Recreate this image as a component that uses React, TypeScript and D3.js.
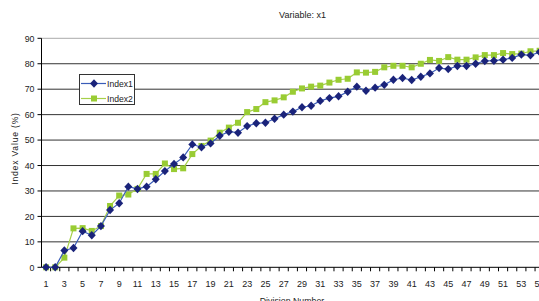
import React from "react";
import * as d3 from "d3";

const categories: number[] = Array.from({ length: 55 }, (_, i) => i + 1);
const index1: number[] = [
  0, 0, 6.6, 7.6, 14.2, 12.6, 16.2, 22.5, 25.2, 31.7,
  30.8, 31.7, 34.6, 37.8, 40.6, 43.2, 48.3, 47.2, 48.7, 51.7,
  53.3, 52.9, 55.5, 56.6, 56.8, 58.4, 60.0, 61.2, 62.9, 63.5,
  65.4, 66.5, 67.2, 69.0, 71.0, 69.4, 70.6, 71.7, 73.7, 74.4,
  73.6, 74.9, 76.2, 78.3, 77.9, 79.1, 79.1, 80.0, 81.1, 81.2,
  81.6, 82.3, 83.6, 83.3, 84.6,
];
const index2: number[] = [
  0, 0, 3.8, 15.3, 15.4, 14.3, 16.2, 24.1, 28.2, 28.6,
  30.8, 36.7, 36.7, 40.8, 38.6, 38.9, 44.5, 47.7, 49.8, 52.9,
  54.9, 56.8, 61.0, 62.2, 64.9, 65.6, 66.8, 69.0, 70.3, 71.0,
  71.4, 72.6, 73.7, 74.1, 76.6, 76.5, 76.8, 78.6, 79.2, 79.2,
  78.6, 80.0, 81.5, 81.1, 82.6, 81.6, 81.6, 82.5, 83.4, 83.4,
  84.2, 83.8, 84.0, 84.9, 85.1,
];
const yTicks: number[] = [0, 10, 20, 30, 40, 50, 60, 70, 80, 90];
const seriesNames: string[] = ["Index1", "Index2"];
const title = "Variable: x1";
const xTitle = "Division Number";
const yTitle = "Index Value (%)";

const W = 539;
const H = 301;
const left = 41.5;
const step = 9.14;
const FONT = "'Liberation Sans', Arial, sans-serif";

export default function App() {
  const x = d3
    .scaleBand<number>()
    .domain(categories)
    .range([left, left + categories.length * step])
    .paddingInner(0)
    .paddingOuter(0);
  const y = d3.scaleLinear().domain([0, 90]).range([267.3, 38.3]);
  const cx = (c: number) => (x(c) as number) + x.bandwidth() / 2;

  const line = d3
    .line<number>()
    .x((_, i) => cx(categories[i]))
    .y((d) => y(d));

  const right = left + categories.length * step;
  const diamond = "M0,-4.2L4,0L0,4.2L-4,0Z";

  return (
    <svg
      width={W}
      height={H}
      style={{ position: "absolute", left: 0, top: 0, background: "#fff" }}
      fontFamily={FONT}
    >
      <rect x={0} y={0} width={W} height={H} fill="#fff" />
      <text x={302.5} y={18} fontSize={9} textAnchor="middle" fill="#222">
        {title}
      </text>
      {/* gridlines */}
      {yTicks
        .filter((t) => t > 0)
        .map((t) => (
          <line
            key={"g" + t}
            x1={left}
            x2={right}
            y1={y(t)}
            y2={y(t)}
            stroke={t === 90 ? "#aaa" : "#333"}
            strokeWidth={1}
          />
        ))}
      {/* y axis */}
      <line x1={left} x2={left} y1={y(90)} y2={y(0)} stroke="#000" strokeWidth={1} />
      {yTicks.map((t) => (
        <g key={"yt" + t}>
          <line x1={left - 4} x2={left} y1={y(t)} y2={y(t)} stroke="#000" />
          <text
            x={34.5}
            y={y(t) + 3.2}
            fontSize={8.8}
            textAnchor="end"
            fill="#222"
          >
            {t}
          </text>
        </g>
      ))}
      {/* x axis */}
      <line x1={left} x2={right} y1={y(0)} y2={y(0)} stroke="#000" strokeWidth={1} />
      {categories.map((c) => (
        <line
          key={"xt" + c}
          x1={(x(c) as number) + step}
          x2={(x(c) as number) + step}
          y1={y(0)}
          y2={y(0) + 4}
          stroke="#000"
        />
      ))}
      {categories
        .filter((c) => c % 2 === 1)
        .map((c) => (
          <text
            key={"xl" + c}
            x={cx(c)}
            y={287}
            fontSize={9}
            textAnchor="middle"
            fill="#222"
          >
            {c}
          </text>
        ))}
      <text x={292} y={304} fontSize={8.8} textAnchor="middle" fill="#222">
        {xTitle}
      </text>
      <text
        transform={`translate(18,148.5) rotate(-90)`}
        fontSize={8.6}
        textAnchor="middle"
        letterSpacing={0.8}
        fill="#222"
      >
        {yTitle}
      </text>
      {/* series 2 */}
      <path d={line(index2) || ""} fill="none" stroke="#a6d04a" strokeWidth={1.2} />
      {index2.map((v, i) => (
        <rect
          key={"s2" + i}
          x={cx(categories[i]) - 3}
          y={y(v) - 3}
          width={6}
          height={6}
          fill="#99cc33"
        />
      ))}
      {/* series 1 */}
      <path d={line(index1) || ""} fill="none" stroke="#3a5cb8" strokeWidth={1.2} />
      {index1.map((v, i) => (
        <path
          key={"s1" + i}
          d={diamond}
          transform={`translate(${cx(categories[i])},${y(v)})`}
          fill="#1a237a"
        />
      ))}
      {/* legend */}
      <rect x={79.5} y={74.5} width={55} height={30} fill="#fff" stroke="#333" strokeWidth={1} />
      <line x1={81} x2={106} y1={83.5} y2={83.5} stroke="#3a5cb8" strokeWidth={1.2} />
      <path d={diamond} transform="translate(94,83.5)" fill="#1a237a" />
      <text x={107} y={86.5} fontSize={8.6} fill="#222">
        {seriesNames[0]}
      </text>
      <line x1={81} x2={106} y1={98.5} y2={98.5} stroke="#a6d04a" strokeWidth={1.2} />
      <rect x={91} y={95.5} width={6} height={6} fill="#99cc33" />
      <text x={107} y={101.5} fontSize={8.6} fill="#222">
        {seriesNames[1]}
      </text>
    </svg>
  );
}
